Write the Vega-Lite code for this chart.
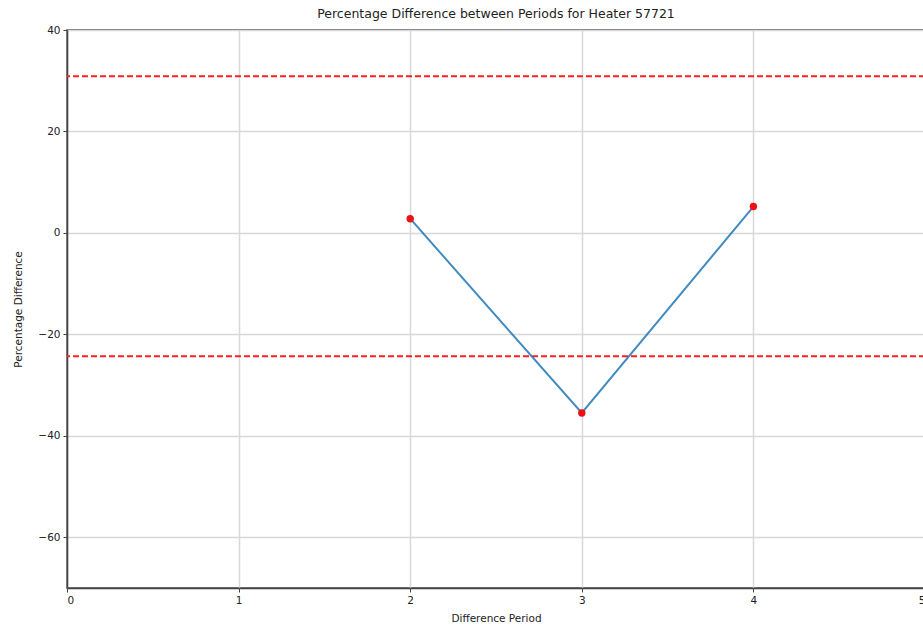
{
  "$schema": "https://vega.github.io/schema/vega-lite/v6.json",
  "autosize": "none",
  "padding": {"left": 67, "top": 30, "right": 0, "bottom": 40},
  "width": 858,
  "height": 558,
  "background": "white",
  "title": {
    "text": "Percentage Difference between Periods for Heater 57721",
    "font": "DejaVu Sans",
    "fontSize": 12.5,
    "fontWeight": "normal",
    "color": "#222222",
    "offset": 5,
    "anchor": "middle"
  },
  "config": {
    "font": "DejaVu Sans",
    "view": {"stroke": "#444444", "strokeWidth": 1.5},
    "axis": {
      "labelFont": "DejaVu Sans",
      "labelFontSize": 10.5,
      "labelColor": "#222222",
      "titleFont": "DejaVu Sans",
      "titleFontSize": 10.5,
      "titleFontWeight": "normal",
      "titleColor": "#222222",
      "domainColor": "#444444",
      "domainWidth": 1.5,
      "tickColor": "#444444",
      "tickSize": 4,
      "tickWidth": 1,
      "gridColor": "#d8d8d8",
      "gridWidth": 1.5
    }
  },
  "datasets": {
    "periods": [
      {"period": 2, "pct_diff": 2.8},
      {"period": 3, "pct_diff": -35.5},
      {"period": 4, "pct_diff": 5.2}
    ],
    "limits": [
      {"limit": 30.9},
      {"limit": -24.3}
    ]
  },
  "layer": [
    {
      "data": {"name": "limits"},
      "mark": {"type": "rule", "color": "#ff2020", "strokeWidth": 2, "strokeDash": [6, 3]},
      "encoding": {
        "y": {"field": "limit", "type": "quantitative", "scale": {"domain": [-70, 40]}}
      }
    },
    {
      "data": {"name": "periods"},
      "mark": {"type": "line", "color": "#1f77b4", "strokeWidth": 2, "opacity": 0.85},
      "encoding": {
        "x": {
          "field": "period",
          "type": "quantitative",
          "scale": {"domain": [0, 5], "nice": false, "zero": false},
          "axis": {"values": [0, 1, 2, 3, 4, 5], "format": "d", "title": "Difference Period", "titlePadding": 8, "labelPadding": 3}
        },
        "y": {
          "field": "pct_diff",
          "type": "quantitative",
          "scale": {"domain": [-70, 40], "nice": false},
          "axis": {"values": [-60, -40, -20, 0, 20, 40], "title": "Percentage Difference", "titlePadding": 14, "labelPadding": 3}
        }
      }
    },
    {
      "data": {"name": "periods"},
      "mark": {"type": "point", "filled": true, "color": "#ee1111", "size": 55, "opacity": 1},
      "encoding": {
        "x": {"field": "period", "type": "quantitative"},
        "y": {"field": "pct_diff", "type": "quantitative"}
      }
    }
  ]
}
